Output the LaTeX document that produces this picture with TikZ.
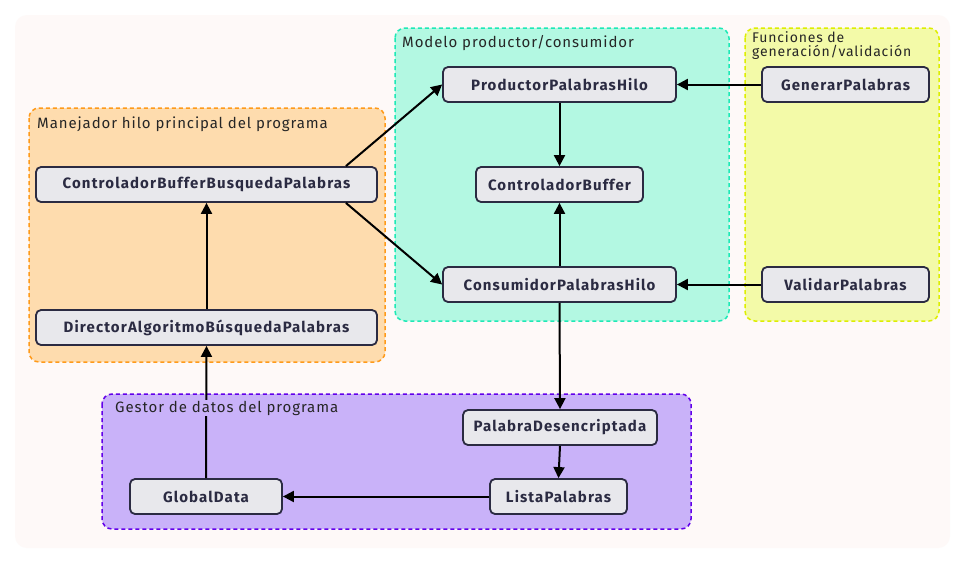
\documentclass[tikz,border=0pt]{standalone}
\usepackage{fontspec}
\setmainfont{Fira Sans}
\newfontfamily\nodefont[LetterSpace=7.5]{Fira Sans}
\newfontfamily\grpfont[LetterSpace=6]{Fira Sans}
\usetikzlibrary{arrows.meta}
\definecolor{bgc}{HTML}{FEF9F8}
\definecolor{orfill}{HTML}{FEDCAE}
\definecolor{ordraw}{HTML}{FF9A1A}
\definecolor{tefill}{HTML}{B3F8E2}
\definecolor{tedraw}{HTML}{1DE9B6}
\definecolor{yefill}{HTML}{F3FAA8}
\definecolor{yedraw}{HTML}{DDEE00}
\definecolor{pufill}{HTML}{C9B2F9}
\definecolor{pudraw}{HTML}{6200EA}
\definecolor{ndfill}{HTML}{E8E8EC}
\definecolor{nddraw}{HTML}{2B2B42}
\begin{document}
\begin{tikzpicture}[x=1pt,y=-1pt,
  cls/.style={draw=nddraw, fill=ndfill, line width=1.8pt, rounded corners=5pt,
    minimum height=35pt, inner sep=0pt, text=nddraw,
    font=\nodefont\bfseries\fontsize{15}{17}\selectfont},
  grp/.style={dashed, line width=1.5pt, rounded corners=10pt, dash pattern=on 4pt off 3pt},
  glabel/.style={anchor=west, inner sep=1pt, text=black!85,
    font=\grpfont\fontsize{15}{16}\selectfont, align=left},
  arr/.style={line width=2pt, -{Triangle[length=11pt,width=11pt]}}]
\useasboundingbox (0,0) rectangle (966,563);
\fill[white] (0,0) rectangle (966,563);
\fill[bgc, rounded corners=12pt] (15,15) rectangle (950,548);
\draw[grp, draw=ordraw, fill=orfill] (29,108) rectangle (385,362);
\draw[grp, draw=tedraw, fill=tefill] (395,28) rectangle (729,321);
\draw[grp, draw=yedraw, fill=yefill] (745,28) rectangle (939,321);
\draw[grp, draw=pudraw, fill=pufill] (102,394) rectangle (691,529);

\node[cls, minimum width=341pt] (cbbp) at (206.5,184.5) {ControladorBufferBusquedaPalabras};
\node[cls, minimum width=341pt] (dir) at (206.5,327.5) {DirectorAlgoritmoBúsquedaPalabras};
\node[cls, minimum width=233pt] (prod) at (559.5,84.5) {ProductorPalabrasHilo};
\node[cls, minimum width=167pt] (cb) at (559.5,184.5) {ControladorBuffer};
\node[cls, minimum width=233pt] (cons) at (559.5,284.5) {ConsumidorPalabrasHilo};
\node[cls, minimum width=167pt] (gen) at (845.5,84.5) {GenerarPalabras};
\node[cls, minimum width=167pt] (val) at (845.5,284.5) {ValidarPalabras};
\node[cls, minimum width=194pt] (pd) at (560,427.5) {PalabraDesencriptada};
\node[cls, minimum width=137pt] (lista) at (558.5,496.5) {ListaPalabras};
\node[cls, minimum width=152pt] (gd) at (206,496.5) {GlobalData};

\draw[arr] ([xshift=-32pt]cbbp.north east) -- (prod.west);
\draw[arr] ([xshift=-32pt]cbbp.south east) -- (cons.west);
\draw[arr] (prod.south) -- (cb.north);
\draw[arr] (cons.north) -- (cb.south);
\draw[arr] (gen.west) -- (prod.east);
\draw[arr] (val.west) -- (cons.east);
\draw[arr] (dir.north) -- (cbbp.south);
\draw[arr] (cons.south) -- (pd.north);
\draw[arr] (pd.south) -- (lista.north);
\draw[arr] (lista.west) -- (gd.east);
\draw[arr] (gd.north) -- (dir.south);

\node[glabel] (lor) at (36,124) {Manejador hilo principal del programa};
\node[glabel] (lte) at (401,43) {Modelo productor/consumidor};
\node[glabel, font=\grpfont\fontsize{14}{14.5}\selectfont] (lye) at (751,45.5) {Funciones de\\generación/validación};
\node[glabel, fill=pufill] (lpu) at (114,408) {Gestor de datos del programa};
\end{tikzpicture}
\end{document}
